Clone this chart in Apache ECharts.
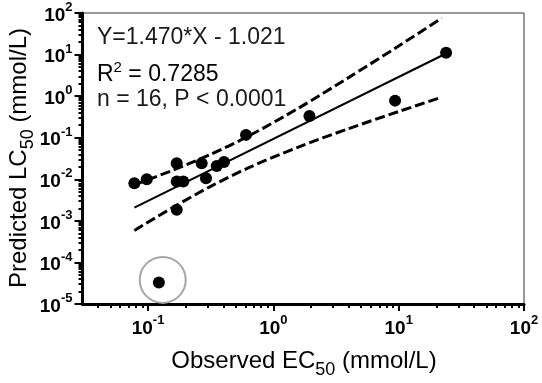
<!DOCTYPE html>
<html><head><meta charset="utf-8">
<script src="https://cdn.jsdelivr.net/npm/echarts@6/dist/echarts.min.js"></script>
<style>html,body{margin:0;padding:0;background:#fff}#c{width:542px;height:383px}</style>
</head><body><div id="c"></div>
<script>
// Data
const observedEC50  = [0.0778, 0.0977, 0.1695, 0.1695, 0.191, 0.268, 0.290, 0.353, 0.404, 0.1695, 0.605, 1.94, 9.36, 23.9, 0.122];
const predictedLC50 = [0.00805, 0.01005, 0.0244, 0.00881, 0.00881, 0.0244, 0.0106, 0.0210, 0.0262, 0.00184, 0.117, 0.334, 0.780, 11.1, 0.000033];
const fitX = [0.0778, 23.9];
const fitY = [0.00208, 10.6];
const bandX   = [0.0778, 0.1585, 0.316, 0.631, 1.585, 3.98, 10, 22.1];
const upperCI = [0.0074, 0.0166, 0.0397, 0.109, 0.513, 2.79, 16.1, 75.0];
const lowerCI = [0.000587, 0.00212, 0.00675, 0.0188, 0.0597, 0.165, 0.427, 0.944];
const highlightX = [0.131];
const highlightY = [0.000038];
const xMajorTicks = [0.1, 1, 10, 100];
const yMajorTicks = [1e-5, 1e-4, 1e-3, 1e-2, 1e-1, 1, 10, 100];
const annotationLines = ['Y=1.470*X - 1.021', ' = 0.7285', 'n = 16, P < 0.0001'];
const xTitle = 'Observed EC';
const yTitle = 'Predicted LC';
const subText = '50';
const unitText = ' (mmol/L)';

function minorTicks(lo, hi) {
  const out = [];
  for (let d = -6; d <= 2; d++) {
    for (let m = 2; m <= 9; m++) {
      const v = m * Math.pow(10, d);
      if (v > lo * 1.0001 && v < hi * 0.9999) out.push(v);
    }
  }
  return out;
}
const xMinor = minorTicks(0.03, 100);
const yMinor = minorTicks(1e-5, 100);

const FONT = '"Liberation Sans", Arial, sans-serif';
function powLabel(v) {
  const e = Math.round(Math.log10(v));
  return '{b|10}{s|' + (e < 0 ? '-' + (-e) : e) + '}';
}
const labelRich = {
  b: {fontSize: 19, fontWeight: 'bold', fontFamily: FONT, color: '#000', lineHeight: 24, verticalAlign: 'bottom'},
  s: {fontSize: 13, fontWeight: 'bold', fontFamily: FONT, color: '#000', lineHeight: 13, verticalAlign: 'top'}
};

const grid = {left: 82.5, right: 18, top: 13, bottom: 79, show: true, borderColor: '#333', borderWidth: 1, backgroundColor: 'transparent'};

const chart = echarts.init(document.getElementById('c'), null, {renderer: 'canvas'});
chart.setOption({
  animation: false,
  backgroundColor: '#fff',
  grid: grid,
  xAxis: [
    {type: 'log', logBase: 10, min: 0.03, max: 100, position: 'bottom',
     axisLine: {show: true, lineStyle: {color: '#000', width: 3}},
     axisTick: {show: true, length: 7, lineStyle: {color: '#000', width: 2}, customValues: xMajorTicks},
     axisLabel: {show: true, margin: 10, customValues: xMajorTicks, formatter: powLabel, rich: labelRich},
     splitLine: {show: false}, minorTick: {show: false}},
    {type: 'log', logBase: 10, min: 0.03, max: 100, position: 'bottom',
     axisLine: {show: false},
     axisTick: {show: true, length: 4, lineStyle: {color: '#000', width: 2}, customValues: xMinor},
     axisLabel: {show: false}, splitLine: {show: false}}
  ],
  yAxis: [
    {type: 'log', logBase: 10, min: 1e-5, max: 100, position: 'left',
     axisLine: {show: true, lineStyle: {color: '#000', width: 3}},
     axisTick: {show: true, length: 8, lineStyle: {color: '#000', width: 2}, customValues: yMajorTicks},
     axisLabel: {show: true, margin: 10, customValues: yMajorTicks, formatter: powLabel, rich: labelRich},
     splitLine: {show: false}, minorTick: {show: false}},
    {type: 'log', logBase: 10, min: 1e-5, max: 100, position: 'left',
     axisLine: {show: false},
     axisTick: {show: true, length: 4, lineStyle: {color: '#000', width: 2}, customValues: yMinor},
     axisLabel: {show: false}, splitLine: {show: false}}
  ],
  series: [
    {type: 'line', name: 'upper', data: bandX.map((x, i) => [x, upperCI[i]]), smooth: 0.3, symbol: 'none',
     lineStyle: {color: '#000', width: 3, type: [10, 4]}, z: 2},
    {type: 'line', name: 'lower', data: bandX.map((x, i) => [x, lowerCI[i]]), smooth: 0.3, symbol: 'none',
     lineStyle: {color: '#000', width: 3, type: [10, 4]}, z: 2},
    {type: 'line', name: 'fit', data: fitX.map((x, i) => [x, fitY[i]]), symbol: 'none',
     lineStyle: {color: '#000', width: 2}, z: 3},
    {type: 'scatter', name: 'points', data: observedEC50.map((x, i) => [x, predictedLC50[i]]),
     symbol: 'circle', symbolSize: 12, itemStyle: {color: '#000', opacity: 1}, z: 4},
    {type: 'scatter', name: 'highlight', data: highlightX.map((x, i) => [x, highlightY[i]]),
     symbol: 'circle', symbolSize: 46, silent: true,
     itemStyle: {color: 'rgba(0,0,0,0)', borderColor: '#a6a6a6', borderWidth: 2, opacity: 1}, z: 5}
  ],
  graphic: [
    {type: 'text', x: 97, y: 38, style: {text: annotationLines[0], fill: '#1a1a1a', font: '23px ' + FONT, align: 'left', verticalAlign: 'middle'}},
    {type: 'text', x: 97, y: 73, style: {text: '{n|R}{sup|2}{n|' + annotationLines[1] + '}', align: 'left', verticalAlign: 'middle',
      rich: {n: {fontSize: 23, fontFamily: FONT, color: '#1a1a1a', lineHeight: 26, verticalAlign: 'bottom'},
             sup: {fontSize: 15, fontFamily: FONT, color: '#1a1a1a', lineHeight: 15, verticalAlign: 'top'}}}},
    {type: 'text', x: 97, y: 100, style: {text: annotationLines[2], fill: '#1a1a1a', font: '23px ' + FONT, align: 'left', verticalAlign: 'middle'}},
    {type: 'text', x: 304, y: 364, style: {text: '{n|' + xTitle + '}{sub|' + subText + '}{n|' + unitText + '}', align: 'center', verticalAlign: 'middle',
      rich: {n: {fontSize: 24, fontFamily: FONT, color: '#1a1a1a', lineHeight: 30, verticalAlign: 'top'},
             sub: {fontSize: 18, fontFamily: FONT, color: '#1a1a1a', lineHeight: 18, verticalAlign: 'bottom'}}}},
    {type: 'text', x: 22, y: 158, rotation: Math.PI / 2, style: {text: '{n|' + yTitle + '}{sub|' + subText + '}{n|' + unitText + '}', align: 'center', verticalAlign: 'middle',
      rich: {n: {fontSize: 24, fontFamily: FONT, color: '#1a1a1a', lineHeight: 30, verticalAlign: 'top'},
             sub: {fontSize: 18, fontFamily: FONT, color: '#1a1a1a', lineHeight: 18, verticalAlign: 'bottom'}}}}
  ]
});
</script></body></html>
